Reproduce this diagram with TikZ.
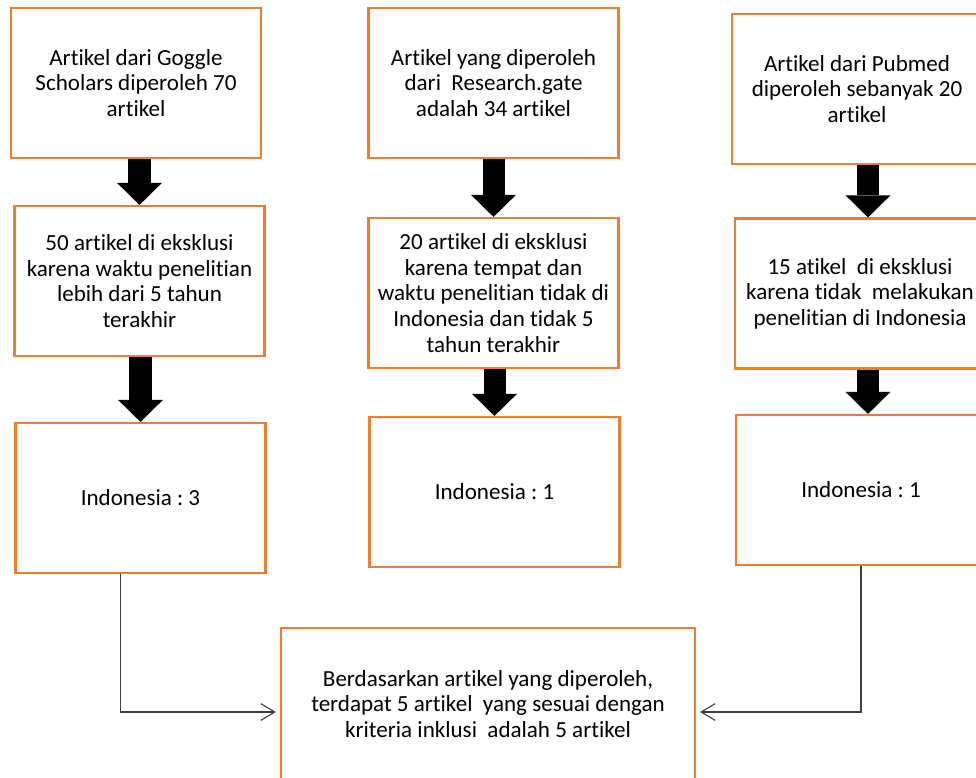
\documentclass[tikz,border=0pt]{standalone}
\usepackage{fontspec}
\setmainfont{Carlito}[RawFeature=-liga]
\usetikzlibrary{arrows.meta}
\definecolor{oranye}{HTML}{ED7D31}
\definecolor{abutua}{HTML}{404040}
\frenchspacing

\begin{document}
\begin{tikzpicture}[x=0.025cm, y=-0.025cm,
  kotak/.style={draw=oranye, line width=1.5pt, minimum width=6.25cm, minimum height=3.75cm,
    inner sep=0pt, align=center, font=\fontsize{16.4}{18.2}\selectfont},
  panah/.style={line width=0.55cm, -{Triangle[width=1.12cm, length=0.55cm, line width=0pt]}},
  hubung/.style={draw=abutua, line width=0.8pt, shorten >=0.1cm,
    -{Straight Barb[length=0.35cm, width=0.42cm]}}]
\useasboundingbox (0,0) rectangle (976,778);
%\draw [lightgray](0,0) grid[step=50] (976,778);

% kolom Goggle Scholar
\node[kotak] (a1) at (136,83)    {Artikel dari Goggle\\Scholars diperoleh 70\\artikel};
\node[kotak] (a2) at (139.5,281) {50 artikel di eksklusi\\karena waktu penelitian\\lebih dari 5 tahun\\terakhir};
\node[kotak] (a3) at (140.5,498) {Indonesia : 3};

% kolom Research.gate
\node[kotak] (b1) at (493.5,83)  {Artikel yang diperoleh\\dari~ Research.gate\\adalah 34 artikel};
\node[kotak] (b2) at (493.5,293) {20 artikel di eksklusi\\karena tempat dan\\waktu penelitian tidak di\\Indonesia dan tidak 5\\tahun terakhir};
\node[kotak] (b3) at (494.5,492) {Indonesia : 1};

% kolom Pubmed
\node[kotak] (c1) at (857,89)    {Artikel dari Pubmed\\diperoleh sebanyak 20\\artikel};
\node[kotak] (c2) at (860,293.5) {15 atikel~ di eksklusi\\karena tidak~ melakukan\\penelitian di Indonesia};
\node[kotak] (c3) at (861,490)   {Indonesia : 1};

\node[kotak, minimum width=10.35cm, minimum height=3.8cm] (hasil) at (488,704)
  {Berdasarkan artikel yang diperoleh,\\terdapat 5 artikel~ yang sesuai dengan\\kriteria inklusi~ adalah 5 artikel};

\draw[panah] (a2.north |- a1.south) -- (a2.north);
\draw[panah] (a3.north |- a2.south) -- (a3.north);
\draw[panah] (b2.north |- b1.south) -- (b2.north);
\draw[panah] (b3.north |- b2.south) -- (b3.north);
\draw[panah] ([xshift=0.2cm]c2.north |- c1.south) -- ([xshift=0.2cm]c2.north);
\draw[panah] ([xshift=0.2cm]c2.south) -- ([xshift=0.2cm]c2.south |- c3.north);

\draw[hubung] ([xshift=-0.51cm]a3.south) |- ([yshift=-0.2cm]hasil.west);
\draw[hubung] (c3.south) |- ([yshift=-0.2cm]hasil.east);
\end{tikzpicture}
\end{document}
